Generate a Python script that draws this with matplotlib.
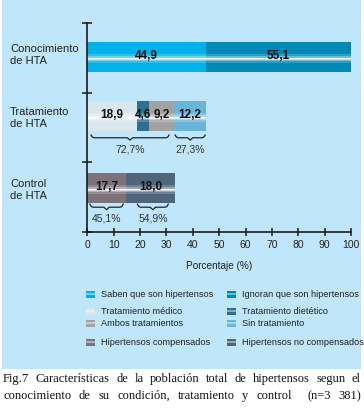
import matplotlib
matplotlib.use('Agg')
import matplotlib.pyplot as plt
from matplotlib.patches import Rectangle

# data
categories = ['Conocimiento\nde HTA', 'Tratamiento\nde HTA', 'Control\nde HTA']
con_vals = [44.9, 55.1]
trat_vals = [18.9, 4.6, 9.2, 12.2]
ctrl_vals = [14.6, 18.6]          # drawn lengths of the control bar
con_labels = ['44,9', '55,1']
trat_labels = ['18,9', '4,6', '9,2', '12,2']
ctrl_labels = ['17,7', '18,0']
trat_groups = [(1.4, 31.0, '72,7%'), (33.3, 44.7, '27,3%')]
ctrl_groups = [(1.0, 13.6, '45,1%'), (19.0, 30.7, '54,9%')]
xticks = list(range(0, 101, 10))

legend_left = ['Saben que son hipertensos', 'Tratamiento médico',
               'Ambos tratamientos', 'Hipertensos compensados']
legend_right = ['Ignoran que son hipertensos', 'Tratamiento dietético',
                'Sin tratamiento', 'Hipertensos no compensados']

caption1 = 'Fig.7 Características de la población total de hipertensos segun el'
caption2 = 'conocimiento de su condición, tratamiento y control  (n=3 381)'

# colours
con_cols = ['#00b2ea', '#0089b6']
trat_cols = ['#d8e7ee', '#2c6f8f', '#a2a2a2', '#69b5d9']
ctrl_cols = ['#7b7379', '#4f6579']
left_cols = [con_cols[0], trat_cols[0], trat_cols[2], ctrl_cols[0]]
right_cols = [con_cols[1], trat_cols[1], trat_cols[3], ctrl_cols[1]]

SANS = ['Liberation Sans', 'DejaVu Sans']
SERIF = ['Liberation Serif', 'DejaVu Serif']
W, H = 364, 411

# white glossy stripe: (fraction of bar height, alpha)
GLOSS = [(0.30, 0.18), (0.16, 0.30), (0.08, 0.55), (0.035, 0.9)]


def gloss_rect(ax, x0, w, y0, h, color, pos=0.44, z=2):
	# y0 is the lower edge in the axes' coordinates, pos is from the lower edge
	ax.add_patch(Rectangle((x0, y0), w, h, facecolor=color, edgecolor='none', zorder=z))
	yc = y0 + h * pos
	for frac, a in GLOSS:
		ax.add_patch(Rectangle((x0, yc - frac * h / 2), w, frac * h, facecolor='white',
		                       alpha=a, edgecolor='none', zorder=z + 0.1))


def brace(ax, x0, x1, top, bot):
	xc = (x0 + x1) / 2
	mid = top - (top - bot) * 0.55
	xs = [x0, x0 + 0.5, x0 + 1.2, xc - 1.0, xc, xc + 1.0, x1 - 1.2, x1 - 0.5, x1]
	ys = [top, mid + 0.01, mid, mid, bot, mid, mid, mid + 0.01, top]
	ax.plot(xs, ys, color='#222222', lw=0.9, zorder=3, clip_on=False)


fig = plt.figure(figsize=(W / 100, H / 100), dpi=100)
fig.patch.set_facecolor('white')

# background canvas in pixel coordinates
bg = fig.add_axes([0, 0, 1, 1], zorder=0)
bg.set_xlim(0, W)
bg.set_ylim(H, 0)
bg.axis('off')
bg.add_patch(Rectangle((2, 0), 359, 369, facecolor='#bfe6fa', edgecolor='none', zorder=1))

# main axes
ax = fig.add_axes([87.3 / W, 1 - 232 / H, (351 - 87.3) / W, (232 - 23) / H], zorder=1)
ax.set_facecolor('none')

centers = [2.512, 1.665, 0.632]
height = 0.44
rows = [(con_vals, con_cols, con_labels), (trat_vals, trat_cols, trat_labels),
        (ctrl_vals, ctrl_cols, ctrl_labels)]
for yc, (vals, cols, labs) in zip(centers, rows):
	left = 0
	for v, c, lab in zip(vals, cols, labs):
		gloss_rect(ax, left, v, yc - height / 2, height, c)
		ax.text(left + v / 2, yc + 0.01, lab, ha='center', va='center',
		        fontsize=8.5, fontweight='bold', family=SANS, color='#111111', zorder=4)
		left += v

for x0, x1, lab in trat_groups:
	brace(ax, x0, x1, 1.392, 1.32)
	ax.text((x0 + x1) / 2, 1.18, lab, ha='center', va='center', fontsize=7.5,
	        family=SANS, color='#333333')
for x0, x1, lab in ctrl_groups:
	brace(ax, x0, x1, 0.40, 0.32)
	ax.text((x0 + x1) / 2, 0.20, lab, ha='center', va='center', fontsize=7.5,
	        family=SANS, color='#333333')

ax.set_xlim(0, 100)
ax.set_ylim(0, 3)
ax.set_xticks(xticks)
ax.set_xticklabels([str(t) for t in xticks], family=SANS, fontsize=7.5, color='#222222')
ax.set_yticks([0, 1, 2, 3])
ax.set_yticklabels([])
ax.tick_params(axis='x', direction='inout', length=6, width=1.1, pad=3, color='#1a1a1a')
ax.tick_params(axis='y', direction='inout', length=7, width=1.1, color='#1a1a1a')
for s in ['top', 'right']:
	ax.spines[s].set_visible(False)
for s in ['left', 'bottom']:
	ax.spines[s].set_linewidth(1.2)
	ax.spines[s].set_color('#1a1a1a')
ax.set_xlabel('Porcentaje (%)', family=SANS, fontsize=7.2, color='#222222', labelpad=8)

# category labels
for lab, py in zip(categories, [55, 118, 190]):
	bg.text(10, py, lab, ha='left', va='center', fontsize=8, family=SANS,
	        color='#222222', linespacing=1.35)

# legend
rows_y = [294, 311, 323, 342]
for col_x, labs, cols in [(86, legend_left, left_cols), (227, legend_right, right_cols)]:
	for py, lab, c in zip(rows_y, labs, cols):
		# pixel axes are inverted, so the "lower" edge is the top of the marker
		gloss_rect(bg, col_x, 9, py + 3.5, -7, c, pos=0.5, z=2)
		bg.text(col_x + 15, py, lab, ha='left', va='center', fontsize=6.6,
		        family=SANS, color='#222222')

# caption, justified to the full width
renderer = fig.canvas.get_renderer()


def justify(text, y, x0, x1):
	words = text.split(' ')
	arts = [bg.text(0, y, w, ha='left', va='baseline', fontsize=9, family=SERIF,
	                color='#111111') for w in words]
	widths = [a.get_window_extent(renderer).width for a in arts]
	gap = (x1 - x0 - sum(widths)) / (len(words) - 1)
	x = x0
	for a, w in zip(arts, widths):
		a.set_x(x)
		x += w + gap


justify(caption1, 382, 3, 361)
justify(caption2, 399, 3, 361)

fig.savefig('out.png', dpi=100, facecolor='white')
